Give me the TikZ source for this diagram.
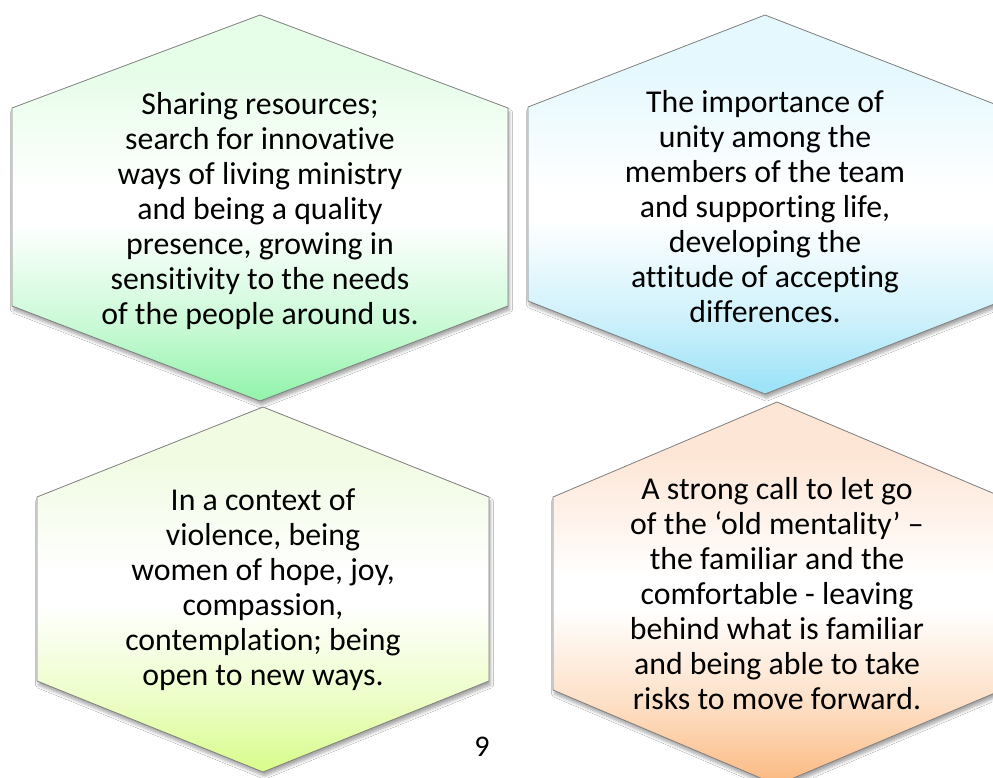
\documentclass[tikz,border=0pt]{standalone}
\usepackage{fontspec}
\setmainfont{Carlito}[Ligatures={NoCommon}]
\usetikzlibrary{shadows.blur}
\definecolor{gAtop}{HTML}{E6FDE8}
\definecolor{gAbot}{HTML}{96F4AE}
\definecolor{gBtop}{HTML}{E4F8FE}
\definecolor{gBbot}{HTML}{9EE3F8}
\definecolor{gCtop}{HTML}{F0FBE2}
\definecolor{gCbot}{HTML}{DAFC90}
\definecolor{gDtop}{HTML}{FDE6D6}
\definecolor{gDbot}{HTML}{FBBC86}
\definecolor{edgegray}{HTML}{7F7F7F}
\colorlet{gAmid}{gAbot!50!white}
\colorlet{gBmid}{gBbot!50!white}
\colorlet{gCmid}{gCbot!50!white}
\colorlet{gDmid}{gDbot!50!white}
% TikZ maps the 25bp..75bp band of a named shading onto the path's bounding box
\pgfdeclareverticalshading{shA}{100bp}{color(0bp)=(gAbot); color(26bp)=(gAbot); color(35bp)=(gAmid); color(48bp)=(white); color(52bp)=(white); color(68bp)=(gAtop); color(100bp)=(gAtop)}
\pgfdeclareverticalshading{shB}{100bp}{color(0bp)=(gBbot); color(26bp)=(gBbot); color(35bp)=(gBmid); color(48bp)=(white); color(52bp)=(white); color(68bp)=(gBtop); color(100bp)=(gBtop)}
\pgfdeclareverticalshading{shC}{100bp}{color(0bp)=(gCbot); color(26bp)=(gCbot); color(35bp)=(gCmid); color(48bp)=(white); color(52bp)=(white); color(68bp)=(gCtop); color(100bp)=(gCtop)}
\pgfdeclareverticalshading{shD}{100bp}{color(0bp)=(gDbot); color(26bp)=(gDbot); color(35bp)=(gDmid); color(48bp)=(white); color(52bp)=(white); color(68bp)=(gDtop); color(100bp)=(gDtop)}
\tikzset{
  hexshape/.style={draw=edgegray, line width=0.8pt, line join=miter,
    blur shadow={shadow xshift=1.5pt, shadow yshift=-4pt, shadow blur steps=6, shadow opacity=35, shadow blur radius=3pt}},
  hextext/.style={align=center, font=\fontsize{31.8}{35}\selectfont, text=black, inner sep=0pt},
  pagenum/.style={font=\fontsize{30}{34}\selectfont, text=black, inner sep=0pt}
}
\begin{document}
\begin{tikzpicture}[x=1pt, y=-1pt]
\useasboundingbox (0,0) rectangle (993,778);
\clip (0,0) rectangle (993,778);
\fill[white] (0,0) rectangle (993,778);
% hexagon 1
\path[hexshape, shading=shA] (260,15) -- (508,108) -- (508,306) -- (260,401) -- (12,306) -- (12,108) -- cycle;
% hexagon 2
\path[hexshape, shading=shB] (765,15) -- (1002,107) -- (1002,301) -- (765,394) -- (528,301) -- (528,107) -- cycle;
% hexagon 3
\path[hexshape, shading=shC] (263,407) -- (489,497) -- (489,681) -- (263,772) -- (37,681) -- (37,497) -- cycle;
% hexagon 4
\path[hexshape, shading=shD] (777,402) -- (1002,497) -- (1002,690) -- (777,785) -- (553,690) -- (553,497) -- cycle;

\node[hextext] (t1) at (260,211) {Sharing resources;\\search for innovative\\ways of living ministry\\and being a quality\\presence, growing in\\sensitivity to the needs\\of the people around us.};
\node[hextext] (t2) at (765,207) {The importance of\\unity among the\\members of the team\\and supporting life,\\developing the\\attitude of accepting\\differences.};
\node[hextext] (t3) at (263,590) {In a context of\\violence, being\\women of hope, joy,\\compassion,\\contemplation; being\\open to new ways.};
\node[hextext] (t4) at (777,594) {A strong call to let go\\of the ‘old mentality’ –\\the familiar and the\\comfortable - leaving\\behind what is familiar\\and being able to take\\risks to move forward.};
\node[pagenum] (pn) at (482,747) {9};
\end{tikzpicture}
\end{document}
